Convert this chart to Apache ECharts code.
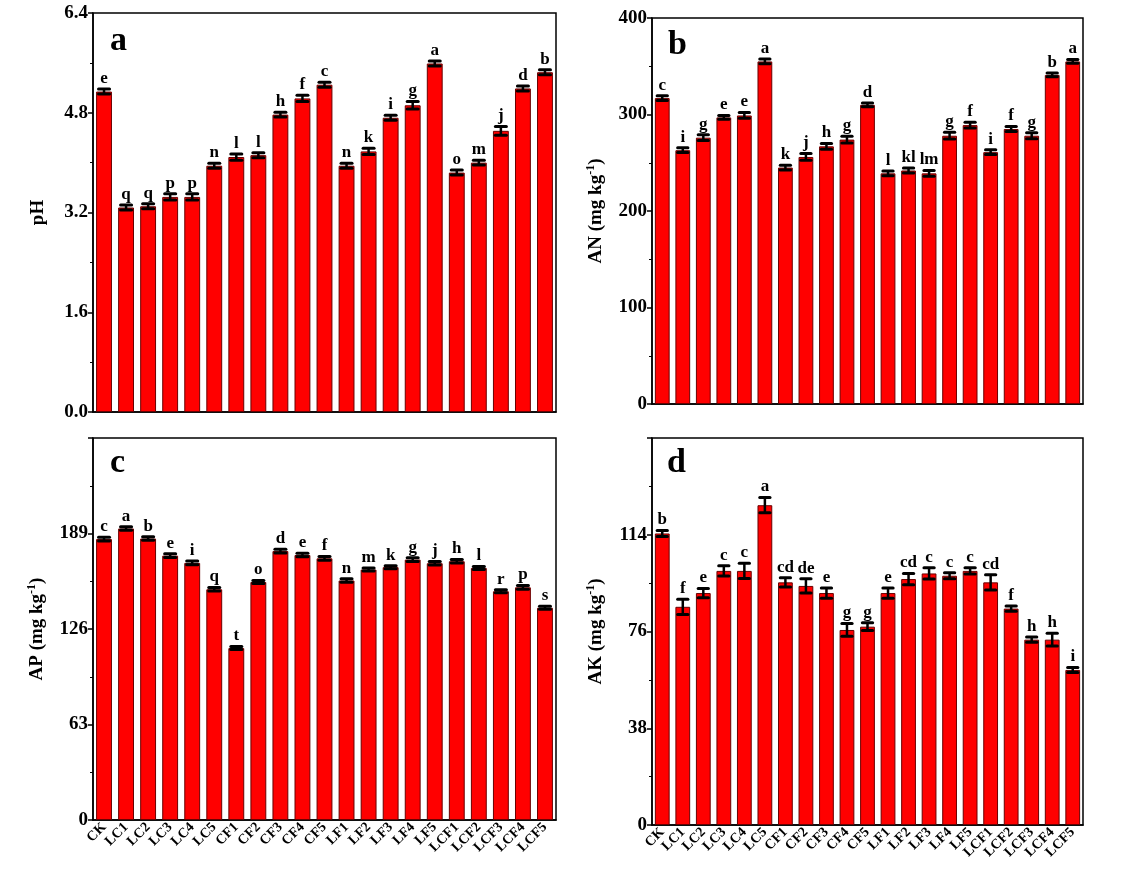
<!DOCTYPE html>
<html>
<head>
    <meta charset="utf-8">
    <title>Soil properties</title>
    <script src="https://cdn.jsdelivr.net/npm/echarts@6/dist/echarts.min.js"></script>
    <style>
        html, body { margin: 0; padding: 0; background: #fff; }
        #main { width: 1126px; height: 876px; }
    </style>
</head>
<body>
<div id="main"></div>
<script>
    var cats = ['CK', 'LC1', 'LC2', 'LC3', 'LC4', 'LC5', 'CF1', 'CF2', 'CF3', 'CF4', 'CF5',
        'LF1', 'LF2', 'LF3', 'LF4', 'LF5', 'LCF1', 'LCF2', 'LCF3', 'LCF4', 'LCF5'];

    // a: pH
    var phVals = [5.14, 3.28, 3.30, 3.45, 3.45, 3.95, 4.09, 4.12, 4.77, 5.03, 5.25,
        3.95, 4.18, 4.72, 4.92, 5.59, 3.84, 4.00, 4.51, 5.19, 5.45];
    var phErr = [0.04, 0.04, 0.04, 0.05, 0.05, 0.04, 0.05, 0.04, 0.04, 0.05, 0.04,
        0.04, 0.05, 0.04, 0.06, 0.04, 0.04, 0.04, 0.07, 0.04, 0.04];
    var phSig = ['e', 'q', 'q', 'p', 'p', 'n', 'l', 'l', 'h', 'f', 'c',
        'n', 'k', 'i', 'g', 'a', 'o', 'm', 'j', 'd', 'b'];

    // b: AN
    var anVals = [317, 263, 276, 297, 299, 355, 245, 256, 267, 274, 310,
        239, 242, 239, 278, 289, 261, 285, 278, 341, 355];
    var anErr = [2.5, 2.5, 3, 2, 3, 2.5, 2.5, 3.5, 3, 3.5, 2,
        2.5, 2.5, 3, 3.5, 3, 2.5, 2.5, 3, 2, 2];
    var anSig = ['c', 'i', 'g', 'e', 'e', 'a', 'k', 'j', 'h', 'g', 'd',
        'l', 'kl', 'lm', 'g', 'f', 'i', 'f', 'g', 'b', 'a'];

    // c: AP
    var apVals = [185.3, 192.3, 185.7, 174.4, 169.6, 152.2, 113.4, 157.0, 177.4, 174.8, 172.6,
        158.0, 165.2, 166.8, 171.8, 169.4, 170.7, 166.3, 150.9, 153.5, 140.0];
    var apErr = [1.2, 1.2, 1.2, 1.2, 1.2, 1.2, 1.0, 1.0, 1.2, 1.2, 1.2,
        1.2, 1.0, 1.0, 1.2, 1.2, 1.2, 1.0, 1.0, 1.2, 1.0];
    var apSig = ['c', 'a', 'b', 'e', 'i', 'q', 't', 'o', 'd', 'e', 'f',
        'n', 'm', 'k', 'g', 'j', 'h', 'l', 'r', 'p', 's'];

    // d: AK
    var akVals = [114.5, 85.7, 91.1, 99.8, 99.8, 125.6, 95.3, 93.9, 91.1, 76.6, 77.9,
        91.1, 96.6, 98.8, 97.9, 99.8, 95.3, 85.0, 72.8, 72.8, 60.9];
    var akErr = [1.2, 3.0, 1.8, 2.0, 3.0, 3.0, 1.8, 2.8, 2.0, 2.5, 1.5,
        2.0, 2.2, 2.2, 1.2, 1.2, 3.0, 1.0, 1.0, 2.5, 1.0];
    var akSig = ['b', 'f', 'e', 'c', 'c', 'a', 'cd', 'de', 'e', 'g', 'g',
        'e', 'cd', 'c', 'c', 'c', 'cd', 'f', 'h', 'h', 'i'];

    var SERIF = '"Liberation Serif", "DejaVu Serif", serif';

    var grids = [
        { left: 93, top: 13, width: 463, height: 399 },
        { left: 652, top: 18, width: 431, height: 386 },
        { left: 93, top: 438, width: 463, height: 382 },
        { left: 652, top: 438, width: 431, height: 387 }
    ];

    var panels = [
        { vals: phVals, err: phErr, sig: phSig, name: 'pH', max: 6.4, interval: 1.6, dec: 1, showMax: true },
        { vals: anVals, err: anErr, sig: anSig, name: 'AN (mg kg{sup|-1})', max: 400, interval: 100, dec: 0, showMax: true },
        { vals: apVals, err: apErr, sig: apSig, name: 'AP (mg kg{sup|-1})', max: 252, interval: 63, dec: 0, showMax: false },
        { vals: akVals, err: akErr, sig: akSig, name: 'AK (mg kg{sup|-1})', max: 152, interval: 38, dec: 0, showMax: false }
    ];

    var gridOpt = [], xAxes = [], yAxes = [], series = [];

    panels.forEach(function (p, i) {
        gridOpt.push(Object.assign({
            show: true, borderColor: '#000', borderWidth: 1.5, backgroundColor: '#fff'
        }, grids[i]));

        xAxes.push({
            type: 'category',
            gridIndex: i,
            data: cats,
            axisLine: { lineStyle: { color: '#000', width: 1.5 } },
            axisTick: { show: false },
            axisLabel: {
                show: i >= 2,
                rotate: 45,
                interval: 0,
                margin: 5,
                color: '#000',
                fontFamily: SERIF,
                fontWeight: 'bold',
                fontSize: 14
            }
        });

        yAxes.push({
            type: 'value',
            gridIndex: i,
            min: 0,
            max: p.max,
            interval: p.interval,
            splitLine: { show: false },
            axisLine: { show: true, lineStyle: { color: '#000', width: 1.5 } },
            axisTick: { show: true, length: 5, lineStyle: { color: '#000', width: 1.5 } },
            minorTick: { show: true, splitNumber: 2, length: 3, lineStyle: { color: '#000', width: 1 } },
            axisLabel: {
                color: '#000',
                fontFamily: SERIF,
                fontWeight: 'bold',
                fontSize: 19,
                margin: 5,
                showMaxLabel: p.showMax,
                formatter: function (v) { return v.toFixed(p.dec); }
            },
            name: p.name,
            nameLocation: 'middle',
            nameGap: 45,
            nameTextStyle: {
                color: '#000',
                fontFamily: SERIF,
                fontWeight: 'bold',
                fontSize: 19,
                rich: {
                    sup: {
                        fontFamily: SERIF,
                        fontWeight: 'bold',
                        fontSize: 12,
                        verticalAlign: 'top',
                        padding: [0, 0, 10, 0]
                    }
                }
            }
        });

        series.push({
            type: 'bar',
            xAxisIndex: i,
            yAxisIndex: i,
            data: p.vals,
            barCategoryGap: '28%',
            itemStyle: { color: '#ff0000', borderColor: '#6a0000', borderWidth: 1 },
            silent: true
        });

        series.push({
            type: 'custom',
            xAxisIndex: i,
            yAxisIndex: i,
            z: 5,
            data: p.vals.map(function (v, k) { return [k, v, p.err[k]]; }),
            renderItem: function (params, api) {
                var x = api.value(0), v = api.value(1), e = api.value(2);
                var top = api.coord([x, v + e]);
                var bot = api.coord([x, v - e]);
                var w = api.size([1, 0])[0] * 0.5;
                var cap = { stroke: '#000', lineWidth: 3, lineCap: 'round' };
                return {
                    type: 'group',
                    children: [
                        { type: 'line', shape: { x1: top[0], y1: top[1], x2: bot[0], y2: bot[1] },
                          style: { stroke: '#000', lineWidth: 2.5 } },
                        { type: 'line', shape: { x1: top[0] - w / 2, y1: top[1], x2: top[0] + w / 2, y2: top[1] }, style: cap },
                        { type: 'line', shape: { x1: bot[0] - w / 2, y1: bot[1], x2: bot[0] + w / 2, y2: bot[1] }, style: cap },
                        { type: 'text', x: top[0], y: top[1] - 2,
                          style: { text: p.sig[params.dataIndex], align: 'center', verticalAlign: 'bottom',
                                   fill: '#000', fontFamily: SERIF, fontWeight: 'bold', fontSize: 17 } }
                    ]
                };
            }
        });
    });

    var tags = [['a', 110, 24], ['b', 668, 28], ['c', 110, 446], ['d', 667, 446]];

    var option = {
        backgroundColor: '#fff',
        animation: false,
        grid: gridOpt,
        xAxis: xAxes,
        yAxis: yAxes,
        series: series,
        graphic: tags.map(function (t) {
            return {
                type: 'text', left: t[1], top: t[2], z: 10,
                style: { text: t[0], fill: '#000', fontFamily: SERIF, fontWeight: 'bold', fontSize: 34 }
            };
        })
    };

    var chart = echarts.init(document.getElementById('main'));
    chart.setOption(option);
</script>
</body>
</html>
